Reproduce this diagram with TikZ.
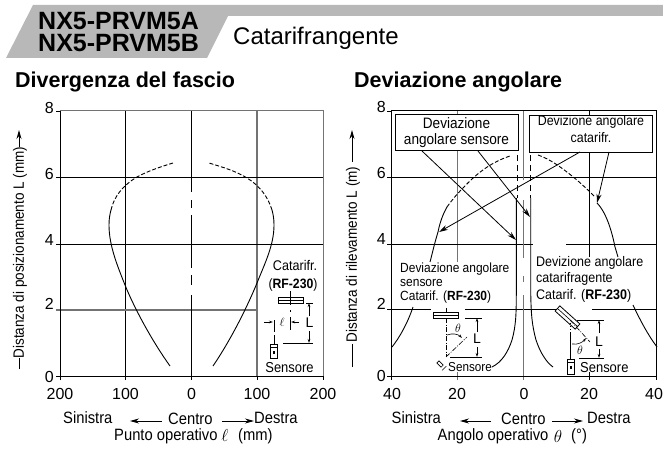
\documentclass[tikz,border=0pt]{standalone}
\usepackage{fontspec}
\setmainfont{Liberation Sans}
\newfontfamily\cond[FakeStretch=0.9]{Liberation Sans}
\usetikzlibrary{arrows.meta}
\definecolor{hdr}{gray}{0.72}
\definecolor{gridg}{gray}{0.45}
\tikzset{
 txt/.style={inner sep=0pt,font=\cond\fontsize{14}{15}\selectfont},
 big/.style={inner sep=0pt,anchor=west,font=\cond\fontsize{16.4}{16}\selectfont},
 lab/.style={inner sep=0pt,font=\cond\fontsize{15}{16}\selectfont},
 tick/.style={inner sep=0pt,font=\fontsize{16}{16}\selectfont},
 sec/.style={inner sep=0pt,anchor=base west,font=\fontsize{21.5}{22}\selectfont\bfseries},
 ga/.style={gridg,line width=1.3pt},
 gb/.style={black,line width=.75pt},
 curve/.style={line width=.9pt},
 dcurve/.style={line width=.9pt,dash pattern=on 4pt off 2pt},
 arr/.style={line width=.8pt,-{Stealth[length=9pt,width=5pt]}},
 bx/.style={draw,line width=1pt,fill=white,inner sep=0pt,align=center},
 dimline/.style={line width=.6pt},
 dimarrow/.style={line width=.6pt,-{Stealth[length=4pt,width=2.5pt]}},
 dd/.style={line width=.6pt,dash pattern=on 5pt off 1.5pt on 1pt off 1.5pt},
 refl/.style={draw,line width=.8pt,fill=white},
}
\begin{document}
\begin{tikzpicture}[x=1pt,y=-1pt]
\useasboundingbox (0,0) rectangle (663,449);
% header
\fill[hdr] (6,58) -- (33,5) -- (663,5) -- (663,16) -- (228,16) -- (207,58) -- cycle;
\node[inner sep=0pt,align=left,anchor=west,font=\fontsize{25}{22.5}\selectfont\bfseries] (hd) at (38,32) {NX5-PRVM5A\\NX5-PRVM5B};
\node[inner sep=0pt,anchor=base west,font=\fontsize{24}{24}\selectfont] (ct) at (233,45) {Catarifrangente};
\node[sec] (s1) at (15,88) {Divergenza del fascio};
\node[sec] (s2) at (354,88) {Deviazione angolare};
% ---- left chart grid
\draw[gb] (125.5,111)--(125.5,376);
\draw[ga] (257,111)--(257,376);
\draw[gb] (56,177.5)--(323,177.5) (56,244)--(323,244);
\draw[ga] (56,310)--(258,310);
\draw[gb] (191.5,111)--(191.5,192) (191.5,200)--(191.5,208) (191.5,215)--(191.5,268) (191.5,275)--(191.5,285) (191.5,295)--(191.5,380);
\draw[gb,line width=1pt] (60,380)--(60,111);
\draw[ga,line width=1pt] (60,111)--(323,111)--(323,376);
\draw[gb,line width=1pt] (56,376)--(323,376);
\foreach \x in {125.5,257,323}{\draw[gb] (\x,376)--(\x,380);}
\draw[gb] (56,111)--(60,111);
% left curves
\draw[curve] (170,366) .. controls (150,338) and (133,305) .. (125,285) .. controls (117,265) and (109,245) .. (109,225) .. controls (109,218) and (110,214) .. (111,210);
\draw[dcurve] (111,210) .. controls (114,197) and (122,186) .. (137,177) .. controls (148,171) and (160,167) .. (173,163);
\draw[curve] (213,366) .. controls (232,338) and (248,305) .. (257,283) .. controls (265,263) and (274,245) .. (274,225) .. controls (274,218) and (273,214) .. (272,210);
\draw[dcurve] (272,210) .. controls (268,197) and (260,186) .. (247,178) .. controls (236,171) and (222,167) .. (209,163);
\foreach \l/\x in {200/60,100/125.5,0/191.5,100/257,200/323}{\node[tick] (t\x) at (\x,394) {\l};}
\foreach \l/\y in {8/108,6/173.5,4/239.5,2/304,0/376.5}{\node[tick,anchor=east] (y\y) at (54,\y) {\l};}
% left y label
\node[lab,rotate=90] (yl) at (20,252.5) {Distanza di posizionamento L (mm)};
\coordinate (yla) at (19,147); \coordinate (ylb) at (19,130); \coordinate (ylc) at (19,369); \coordinate (yld) at (19,358);
\draw[arr,line width=.9pt] (yla)--(ylb);
\draw[line width=.9pt] (ylc)--(yld);
% left inset
\node[txt,anchor=center] (cat) at (295,265) {Catarifr.};
\node[txt,anchor=center,font=\cond\fontsize{13.6}{15}\selectfont] (rf) at (293,285) {(\textbf{RF-230})};
\draw[gb,line width=.6pt] (290,291)--(290,297);
\node[refl,minimum width=25pt,minimum height=6pt,inner sep=0pt] (r1) at (290.5,300) {};
\draw[line width=.6pt] (r1.west)--(r1.east);
\draw[line width=.6pt] (290,297)--(290,305) (290,310)--(290,312) (290,317)--(290,330);
\node[draw,line width=.8pt,minimum width=7pt,minimum height=14pt,inner sep=0pt] (s1b) at (273.5,351) {};
\draw[line width=.6pt] (270,347)--(277,347);
\fill (272.5,351) rectangle (275,353.5);
\draw[line width=.6pt] (274,320)--(274,332) (274,335)--(274,344);
\coordinate (la1) at (264,322); \coordinate (la2) at (273,322); \coordinate (lb1) at (299,322); \coordinate (lb2) at (291,322);
\draw[dimarrow] (la1)--(la2); \draw[dimarrow] (lb1)--(lb2);
\node[inner sep=0pt,font=\fontsize{13}{13}\selectfont] (ell1) at (282,322) {$\ell$};
\draw[dimline] (306,303)--(313,303) (283,343)--(313,343);
\coordinate (da) at (309,303); \coordinate (db) at (309,343);
\draw[dimarrow] (309,316)--(da); \draw[dimarrow] (309,331)--(db);
\node[txt,font=\fontsize{14}{14}\selectfont] (L1) at (309.5,323) {L};
\node[txt,font=\cond\fontsize{14.4}{14}\selectfont] (se1) at (289.5,368) {Sensore};
% ---- right chart grid
\draw[ga] (457.7,111)--(457.7,262) (457.7,372)--(457.7,380);
\draw[gb] (589,111)--(589,257) (589,372)--(589,380);
\draw[gb] (387,177.7)--(656,177.7);
\draw[gb] (387,244)--(533,244) (566,244)--(656,244);
\draw[gb] (387,309)--(431,309) (465,309)--(562,309) (592,309)--(656,309);
\draw[ga] (523.5,111)--(523.5,180) (523.5,200)--(523.5,258) (523.5,276)--(523.5,282) (523.5,295)--(523.5,380);
\draw[gb,line width=1pt] (391,111)--(391,376)--(656,376)--(656,111)--cycle;
\draw[gb] (391,376)--(391,380) (656,376)--(656,380) (387,111)--(391,111) (387,376)--(391,376);
% right curves
\draw[curve] (392,347) .. controls (400,337) and (408,322) .. (413,307);
\draw[curve] (430,262) .. controls (432,255) and (434,245) .. (438,232) .. controls (440,222) and (443,214) .. (447,207);
\draw[dcurve] (447,207) .. controls (452,200) and (457,194) .. (463,188) .. controls (478,172) and (492,162) .. (510,156);
\draw[dcurve] (538,155) .. controls (550,159) and (562,168) .. (572,176) .. controls (582,184) and (590,192) .. (595,197);
\draw[curve] (597,203) .. controls (603,209) and (610,222) .. (615,247) .. controls (616,250) and (617,254) .. (618,257);
\draw[curve] (633,305) .. controls (640,320) and (648,335) .. (657,347);
% inner
\draw[dcurve,dash pattern=on 6pt off 4pt] (517.5,155)--(517.5,198);
\draw[curve] (516.3,198)--(516.3,290) .. controls (516.3,315) and (516,325) .. (512,340) .. controls (508,352) and (502,362) .. (492,367);
\draw[dcurve,dash pattern=on 6pt off 4pt] (530,155)--(530,198);
\draw[curve] (530.7,198)--(530.7,290) .. controls (531,315) and (532,325) .. (536,340) .. controls (540,352) and (546,362) .. (553,367);
\foreach \l/\x in {40/392,20/457,0/524,20/589,40/654}{\node[tick] (u\x) at (\x,394) {\l};}
\foreach \l/\y in {8/106.5,6/172.5,4/239,2/303.5,0/376}{\node[tick,anchor=east] (z\y) at (386,\y) {\l};}
% right y label
\node[lab,rotate=90] (zl) at (353,254.5) {Distanza di rilevamento L (m)};
\coordinate (zla) at (352,162); \coordinate (zlb) at (352,130); \coordinate (zlc) at (352,367); \coordinate (zld) at (352,344);
\draw[arr,line width=.9pt] (zla)--(zlb);
\draw[line width=.9pt] (zlc)--(zld);
% boxes
\node[bx,minimum width=123pt,minimum height=36pt,font=\cond\fontsize{15.1}{16}\selectfont] (b1) at (456.5,133) {Deviazione\\angolare sensore};
\node[bx,minimum width=123pt,minimum height=37pt,anchor=north west,font=\cond\fontsize{13.8}{17}\selectfont,text depth=9pt] (b2) at (529,115) {Devizione angolare\\catarifr.};
\coordinate (e1) at (516,240); \coordinate (e2) at (530,217); \coordinate (e3) at (439,232); \coordinate (e4) at (597,203);
\draw[arr] (422,151)--(e1);
\draw[arr] (478,151)--(e2);
\draw[arr] (580,152)--(e3);
\draw[arr] (609,152)--(e4);
% middle texts
\node[txt,anchor=west,font=\cond\fontsize{13.3}{14}\selectfont] (m1) at (400,269) {Deviazione angolare};
\node[txt,anchor=west,font=\cond\fontsize{13.3}{14}\selectfont] (m2) at (400,283) {sensore};
\node[txt,anchor=west,font=\cond\fontsize{13.3}{14}\selectfont] (m3) at (400,297) {Catarif. (\textbf{RF-230})};
\node[txt,anchor=west,font=\cond\fontsize{13.9}{14}\selectfont] (n1) at (536,263) {Devizione angolare};
\node[txt,anchor=west,font=\cond\fontsize{13.9}{14}\selectfont] (n2) at (536,279) {catarifragente};
\node[txt,anchor=west,font=\cond\fontsize{13.9}{14}\selectfont] (n3) at (536,296) {Catarif. (\textbf{RF-230})};
% middle inset
\node[refl,minimum width=25pt,minimum height=6pt,inner sep=0pt] (r2) at (446,315) {};
\draw[line width=.6pt] (r2.west)--(r2.east);
\draw[line width=.6pt] (446,308)--(446,312);
\draw[dd] (446,318)--(446,357);
\draw[dd] (446,357)--(467,337);
\coordinate (ta) at (447,335); \coordinate (tb) at (462,338);
\draw[dimarrow] (ta) .. controls (452,333) and (458,334) .. (tb);
\node[inner sep=0pt,font=\fontsize{13}{13}\selectfont] (th1) at (458,328) {$\theta$};
\draw[dimline] (465,318)--(482,318) (450,357)--(482,357);
\draw[dimarrow] (477,332)--(477,318); \draw[dimarrow] (477,347)--(477,357);
\node[txt,font=\fontsize{14}{14}\selectfont] (L2) at (477,339) {L};
\begin{scope}[shift={(440,364)},rotate=-45]
\draw[line width=.7pt] (-3,-1.5) rectangle (3,1.5);
\draw[line width=.7pt] (6,-3)--(6,3);
\end{scope}
\node[txt,anchor=west,font=\cond\fontsize{13}{14}\selectfont] (se2) at (448,367) {Sensore};
% right inset
\begin{scope}[shift={(567.5,317.5)},rotate=-42]
\node[refl,transform shape,minimum width=27pt,minimum height=7pt,inner sep=0pt] (r3) at (0,0) {};
\draw[line width=.6pt] (r3.west)--(r3.east);
\end{scope}
\draw[line width=.6pt,dash pattern=on 1pt off 2pt] (570,323)--(570,332);
\draw[line width=.7pt] (570,332)--(570,359);
\draw[dd] (570,320)--(590,342);
\coordinate (tc) at (572,344); \coordinate (td) at (586,338);
\draw[dimarrow] (tc) .. controls (578,345) and (583,342) .. (td);
\node[inner sep=0pt,font=\fontsize{13}{13}\selectfont] (th2) at (580,350) {$\theta$};
\draw[dimline] (577,320)--(604,320) (579,358)--(604,358);
\draw[dimarrow] (599,333)--(599,320); \draw[dimarrow] (599,349)--(599,358);
\node[txt,font=\fontsize{14}{14}\selectfont] (L3) at (599,342) {L};
\node[draw,line width=.8pt,minimum width=7pt,minimum height=15pt,inner sep=0pt] (s3b) at (570.5,366.5) {};
\draw[line width=.6pt] (567,362)--(574,362);
\fill (569.5,366) rectangle (572,368.5);
\node[txt,anchor=west,font=\cond\fontsize{14.4}{14}\selectfont] (se3) at (580,368) {Sensore};
% bottom labels left
\node[big] (a1) at (63,417.5) {Sinistra};
\node[big] (a2) at (168,419) {Centro};
\node[big] (a3) at (254,418) {Destra};
\draw[arr] (161.5,421)--(130,421);
\draw[arr] (222,421)--(254,421);
\node[big] (a4) at (114,436) {Punto operativo};
\node[inner sep=0pt,font=\fontsize{16}{16}\selectfont] (a5) at (225,435) {$\ell$};
\node[big] (a6) at (238,436) {(mm)};
% bottom labels right
\node[big] (c1) at (391.5,417.5) {Sinistra};
\node[big] (c2) at (501,419) {Centro};
\node[big] (c3) at (587,418) {Destra};
\draw[arr] (491,421)--(460,421);
\draw[arr] (552,421)--(583,421);
\node[big] (c4) at (437.5,436) {Angolo operativo};
\node[inner sep=0pt,font=\fontsize{16}{16}\selectfont] (c5) at (558,436) {$\theta$};
\node[big] (c6) at (571,436) {(°)};
\end{tikzpicture}
\end{document}
